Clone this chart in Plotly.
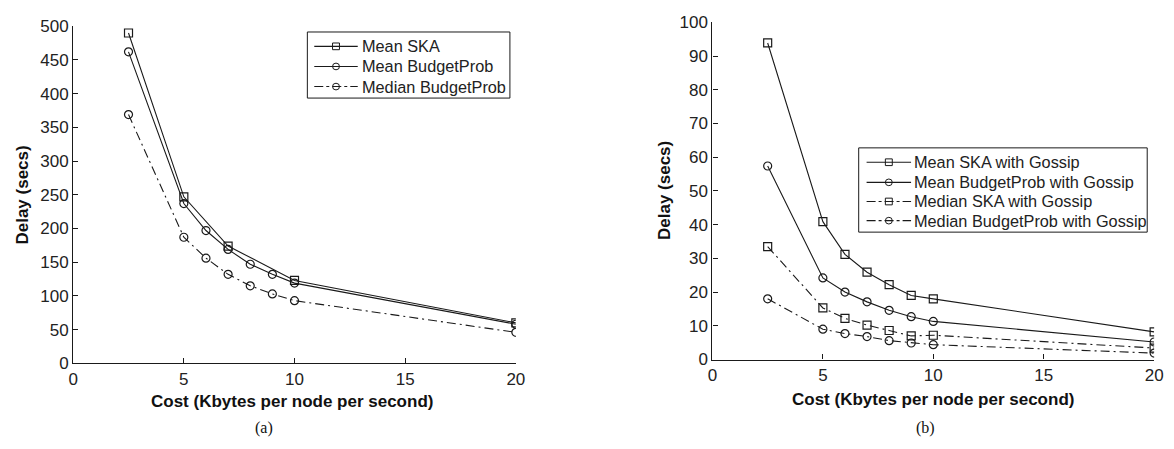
import plotly.graph_objects as go

# ---- data ----
cost = [2.5, 5, 6, 7, 8, 9, 10, 20]
cost_ska_a = [2.5, 5, 7, 10, 20]

# (a) without gossip
mean_ska_a = [490, 247, 174, 123, 60]
mean_bp_a = [462, 237, 197, 169, 147, 132, 119, 58]
median_bp_a = [369, 187, 156, 132, 115, 103, 93, 46]

# (b) with gossip
mean_ska_b = [93.9, 40.9, 31.2, 25.9, 22.2, 19.0, 18.0, 8.2]
mean_bp_b = [57.4, 24.2, 20.0, 17.1, 14.6, 12.7, 11.3, 5.2]
median_ska_b = [33.5, 15.3, 12.2, 10.2, 8.6, 7.0, 7.2, 3.4]
median_bp_b = [18.0, 9.0, 7.7, 6.8, 5.6, 4.9, 4.4, 1.9]

x_ticks = [0, 5, 10, 15, 20]
y_ticks_a = list(range(0, 501, 50))
y_ticks_b = list(range(0, 101, 10))

W, H = 1174, 449
INK = "#1a1a1a"
SANS = "Liberation Sans, Arial, sans-serif"
SERIF = "Liberation Serif, Times New Roman, serif"
DASHDOT = "9px,4px,2px,4px"
MARKER_SIZE = 8
TEXT_SIZE = 17
LEGEND_SIZE = 16.3


def px_x(p):
    return p / W


def px_y(p):
    return 1 - p / H


def series(x, y, symbol, dash, xa, ya):
    return go.Scatter(
        x=x, y=y, mode="lines+markers", showlegend=False, hoverinfo="x+y",
        line=dict(color=INK, width=1.1, dash=dash),
        marker=dict(symbol=symbol, size=MARKER_SIZE, color=INK,
                    line=dict(color=INK, width=1.2)),
        xaxis=xa, yaxis=ya,
    )


panel_a = [
    ("Mean SKA", cost_ska_a, mean_ska_a, "square", "solid"),
    ("Mean BudgetProb", cost, mean_bp_a, "circle", "solid"),
    ("Median BudgetProb", cost, median_bp_a, "circle", DASHDOT),
]
panel_b = [
    ("Mean SKA with Gossip", cost, mean_ska_b, "square", "solid"),
    ("Mean BudgetProb with Gossip", cost, mean_bp_b, "circle", "solid"),
    ("Median SKA with Gossip", cost, median_ska_b, "square", DASHDOT),
    ("Median BudgetProb with Gossip", cost, median_bp_b, "circle", DASHDOT),
]

fig = go.Figure()
for name, xs, ys, sym, dash in panel_a:
    fig.add_trace(series(xs, ys, sym + "-open", dash, "x", "y"))
for name, xs, ys, sym, dash in panel_b:
    fig.add_trace(series(xs, ys, sym + "-open", dash, "x2", "y2"))

axis_common = dict(
    showline=True, linecolor=INK, linewidth=1.2, mirror=False,
    showgrid=False, zeroline=False,
    ticks="inside", ticklen=5, tickwidth=1, tickcolor=INK,
    tickfont=dict(family=SANS, size=TEXT_SIZE, color="#222"),
    fixedrange=True,
)

fig.update_layout(
    width=W, height=H,
    margin=dict(l=0, r=0, t=0, b=0),
    paper_bgcolor="white", plot_bgcolor="white",
    showlegend=False,
    xaxis=dict(domain=[px_x(69), px_x(517)], range=[0, 20], tickvals=x_ticks,
               anchor="y", **axis_common),
    yaxis=dict(domain=[px_y(370), px_y(18)], range=[0, 500], tickvals=y_ticks_a,
               anchor="x", **axis_common),
    xaxis2=dict(domain=[px_x(716), px_x(1163)], range=[0, 20], tickvals=x_ticks,
                anchor="y2", **axis_common),
    yaxis2=dict(domain=[px_y(366), px_y(14)], range=[0, 100], tickvals=y_ticks_b,
                anchor="x2", **axis_common),
)


# ---- boxed legends (MATLAB style: short line, small marker, label) ----
def draw_legend(entries, box, line_x0, line_x1, text_x, row_y):
    x0, y0, x1, y1 = box
    fig.add_shape(type="rect", xref="paper", yref="paper",
                  x0=px_x(x0), x1=px_x(x1), y0=px_y(y1), y1=px_y(y0),
                  line=dict(color=INK, width=1), fillcolor="white")
    half = 3.5
    for (name, _, _, sym, dash), ry in zip(entries, row_y):
        fig.add_shape(type="line", xref="paper", yref="paper",
                      x0=px_x(line_x0), x1=px_x(line_x1),
                      y0=px_y(ry), y1=px_y(ry),
                      line=dict(color=INK, width=1.1,
                                dash="solid" if dash == "solid" else "dashdot"))
        cx = (line_x0 + line_x1) / 2
        fig.add_shape(type="rect" if sym == "square" else "circle",
                      xref="paper", yref="paper",
                      x0=px_x(cx - half), x1=px_x(cx + half),
                      y0=px_y(ry + half), y1=px_y(ry - half),
                      line=dict(color=INK, width=1), fillcolor="rgba(0,0,0,0)")
        fig.add_annotation(text=name, x=px_x(text_x), y=px_y(ry),
                           xref="paper", yref="paper", xanchor="left",
                           yanchor="middle", showarrow=False,
                           font=dict(family=SANS, size=LEGEND_SIZE, color="#222"))


draw_legend(panel_a, (306, 24, 511, 93), 313, 357, 359, [39, 60, 81])
draw_legend(panel_b, (864, 145, 1156, 233), 872, 917, 918, [160, 181, 201, 221])

# axis titles and sub-captions
labels = [
    ("Cost (Kbytes per node per second)", 290, 410, 0, True, SANS, TEXT_SIZE),
    ("Cost (Kbytes per node per second)", 939, 408, 0, True, SANS, TEXT_SIZE),
    ("Delay (secs)", 18, 194, -90, True, SANS, TEXT_SIZE),
    ("Delay (secs)", 668, 190, -90, True, SANS, TEXT_SIZE),
    ("(a)", 262, 438, 0, False, SERIF, 16),
    ("(b)", 932, 438, 0, False, SERIF, 16),
]
for text, cx, cy, ang, bold, fam, size in labels:
    fig.add_annotation(
        text=f"<b>{text}</b>" if bold else text,
        x=px_x(cx), y=px_y(cy), xref="paper", yref="paper",
        xanchor="center", yanchor="middle", showarrow=False, textangle=ang,
        font=dict(family=fam, size=size, color="#111"),
    )

fig.write_html("out.html")
